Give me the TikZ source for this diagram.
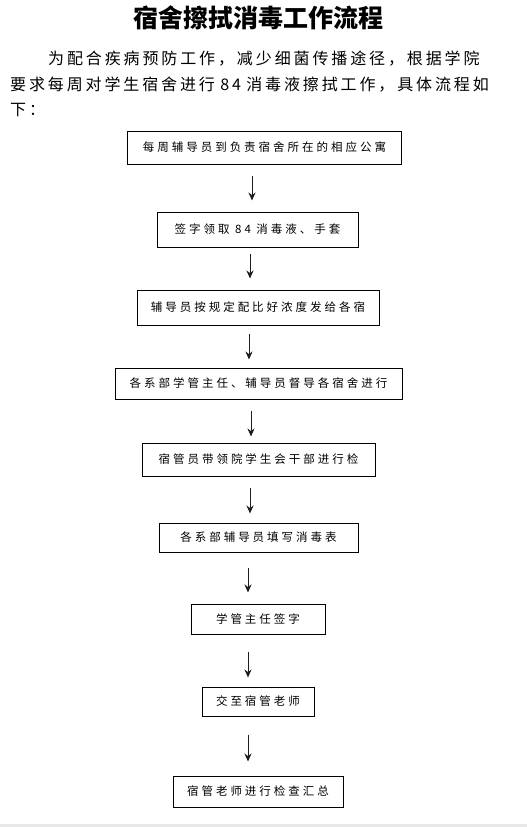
\documentclass[tikz,border=0pt]{standalone}
\usepackage{fontspec}
\setmainfont{Noto Sans CJK SC}
\newfontfamily\titlefont{Noto Sans CJK SC}
\newfontfamily\parafont[LetterSpace=18]{Noto Sans CJK SC}
\newfontfamily\boxfont[LetterSpace=26]{Noto Sans CJK SC}
\usetikzlibrary{arrows.meta}
\definecolor{flowgray}{RGB}{232,232,232}
\definecolor{flowline}{RGB}{30,30,30}

\tikzset{
  flowbox/.style={draw=black,line width=1pt,inner sep=0pt,
    font=\boxfont\fontsize{11.5}{12}\selectfont},
  flowarrow/.style={-{Stealth[length=8pt,width=7pt]},line width=1pt,flowline},
}

\begin{document}
\begin{tikzpicture}[x=1pt,y=-1pt]
  % page
  \fill[white] (0,0) rectangle (527,827);
  \useasboundingbox (0,0) rectangle (527,827);
  \fill[flowgray] (0,824) rectangle (527,827);
  % title and intro
  \node[font=\titlefont\bfseries\fontsize{25}{28}\selectfont] (title) at (258,18) {宿舍擦拭消毒工作流程};
  \node[anchor=north west,inner sep=0pt,text width=500pt,align=left,
    font=\parafont\fontsize{16}{25.5}\selectfont] (intro) at (10,51) {%
    \hspace*{38pt}为配合疾病预防工作，减少细菌传播途径，根据学院\\
    要求每周对学生宿舍进行 84 消毒液擦拭工作，具体流程如\\
    下：};
  % steps
  \node[flowbox,minimum width=274pt,minimum height=33pt] (b1) at (264.5,147.5) {每周辅导员到负责宿舍所在的相应公寓};
  \node[flowbox,minimum width=201pt,minimum height=35pt] (b2) at (257.5,229.5) {签字领取 84 消毒液、手套};
  \node[flowbox,minimum width=242pt,minimum height=35pt] (b3) at (258,307.5) {辅导员按规定配比好浓度发给各宿};
  \node[flowbox,minimum width=287pt,minimum height=31pt] (b4) at (258.5,383.5) {各系部学管主任、辅导员督导各宿舍进行};
  \node[flowbox,minimum width=233pt,minimum height=33pt] (b5) at (258.5,459.5) {宿管员带领院学生会干部进行检};
  \node[flowbox,minimum width=199pt,minimum height=29pt] (b6) at (258.5,537.5) {各系部辅导员填写消毒表};
  \node[flowbox,minimum width=134pt,minimum height=30pt] (b7) at (258,619) {学管主任签字};
  \node[flowbox,minimum width=112pt,minimum height=29pt] (b8) at (258,701.5) {交至宿管老师};
  \node[flowbox,minimum width=170pt,minimum height=31pt] (b9) at (258,791.5) {宿管老师进行检查汇总};
  % arrows
  \draw[flowarrow,shorten <=11pt,shorten >=11pt] ([xshift=-5.5pt]b2.north |- b1.south) -- ([xshift=-5.5pt]b2.north);
  \draw[flowarrow,shorten <=6pt,shorten >=11pt] ([xshift=-8pt]b3.north |- b2.south) -- ([xshift=-8pt]b3.north);
  \draw[flowarrow,shorten <=8pt,shorten >=8pt] ([xshift=-9.5pt]b4.north |- b3.south) -- ([xshift=-9.5pt]b4.north);
  \draw[flowarrow,shorten <=11pt,shorten >=6pt] ([xshift=-7.5pt]b5.north |- b4.south) -- ([xshift=-7.5pt]b5.north);
  \draw[flowarrow,shorten <=11pt,shorten >=9pt] ([xshift=-8.5pt]b6.north |- b5.south) -- ([xshift=-8.5pt]b6.north);
  \draw[flowarrow,shorten <=15pt,shorten >=11pt] ([xshift=-10pt]b7.north |- b6.south) -- ([xshift=-10pt]b7.north);
  \draw[flowarrow,shorten <=17pt,shorten >=9pt] ([xshift=-10pt]b8.north |- b7.south) -- ([xshift=-10pt]b8.north);
  \draw[flowarrow,shorten <=18pt,shorten >=14pt] ([xshift=-10pt]b9.north |- b8.south) -- ([xshift=-10pt]b9.north);
\end{tikzpicture}
\end{document}
